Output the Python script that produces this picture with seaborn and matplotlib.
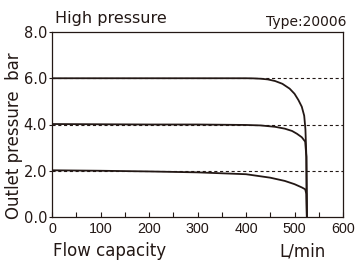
import matplotlib
matplotlib.use("Agg")
import matplotlib.pyplot as plt
from matplotlib.ticker import MultipleLocator, FixedLocator
import numpy as np
import pandas as pd
import seaborn as sns

# ---- data ----
flow_6bar = [0, 100, 200, 300, 400, 415, 430, 445, 460, 475, 490, 500, 508, 515, 520, 522.5, 524.5, 525.5]
pres_6bar = [6.0, 6.0, 6.0, 6.0, 6.0, 5.995, 5.98, 5.95, 5.88, 5.76, 5.55, 5.33, 5.06, 4.77, 4.38, 3.8, 2.6, 0.0]

flow_4bar = [0, 100, 200, 300, 400, 430, 460, 480, 495, 505, 515, 522, 524.5, 525.5]
pres_4bar = [4.02, 4.01, 4.0, 4.0, 3.98, 3.96, 3.9, 3.82, 3.72, 3.6, 3.45, 3.26, 2.6, 0.0]

flow_2bar = [0, 100, 200, 300, 400, 450, 480, 500, 515, 522, 524.5, 525.5]
pres_2bar = [2.02, 2.0, 1.97, 1.93, 1.85, 1.7, 1.56, 1.42, 1.28, 1.2, 1.0, 0.0]

ref_levels = [2, 4, 6]
y_ticks = [0, 2, 4, 6, 8]
y_tick_labels = ["0.0", "2.0", "4.0", "6.0", "8.0"]
x_ticks = [0, 100, 200, 300, 400, 500, 600]
x_tick_labels = ["0", "100", "200", "300", "400", "500", "600"]

INK = "#231815"

sns.set_theme(style="white")
plt.rcParams["font.family"] = ["DejaVu Sans"]

df = pd.concat([
    pd.DataFrame({"flow": flow_6bar, "pressure": pres_6bar, "set": "6 bar"}),
    pd.DataFrame({"flow": flow_4bar, "pressure": pres_4bar, "set": "4 bar"}),
    pd.DataFrame({"flow": flow_2bar, "pressure": pres_2bar, "set": "2 bar"}),
], ignore_index=True)

fig = plt.figure(figsize=(3.58, 2.64), dpi=100)
ax = fig.add_axes([52/358, 1-217/264, 291/358, 185/264])

for lv in ref_levels:
    ax.axhline(lv, color=INK, lw=0.8, linestyle=(0, (2.8, 2.4)), zorder=1)

sns.lineplot(data=df, x="flow", y="pressure", hue="set",
             palette=[INK, INK, INK], sort=False, estimator=None,
             legend=False, lw=1.3, ax=ax, zorder=3)

ax.set_xlim(0, 600)
ax.set_ylim(0, 8)
ax.set_xlabel("")
ax.set_ylabel("")

ax.xaxis.set_major_locator(FixedLocator(x_ticks))
ax.set_xticklabels(x_tick_labels, family=["Liberation Sans", "DejaVu Sans"])
ax.xaxis.set_minor_locator(MultipleLocator(50))
ax.yaxis.set_major_locator(FixedLocator(y_ticks))
ax.set_yticklabels(y_tick_labels)

ax.tick_params(axis="x", which="both", direction="in", length=3.5, width=0.8,
               color=INK, labelsize=10.3, pad=3.5, labelcolor=INK, bottom=True)
ax.tick_params(axis="y", which="major", direction="out", length=2.5, width=0.8,
               color=INK, labelsize=10.5, pad=1, labelcolor=INK, left=True)

for s in ax.spines.values():
    s.set_color(INK)
    s.set_linewidth(0.9)
    s.set_visible(True)

fig.text(55/358, 1-23/264, "High pressure", fontsize=11.5, color=INK,
         ha="left", va="baseline")
fig.text(346/358, 1-26/264, "Type:20006", fontsize=10, color=INK,
         ha="right", va="baseline")
fig.text(53/358, 1-256/264, "Flow capacity", fontsize=12, color=INK,
         ha="left", va="baseline")
fig.text(279/358, 1-256/264, "L/min", fontsize=12, color=INK,
         ha="left", va="baseline")
fig.text(14/358, 1-136/264, "Outlet pressure  bar", fontsize=12, color=INK,
         rotation=90, ha="center", va="center")

fig.savefig("out.png", dpi=100)
